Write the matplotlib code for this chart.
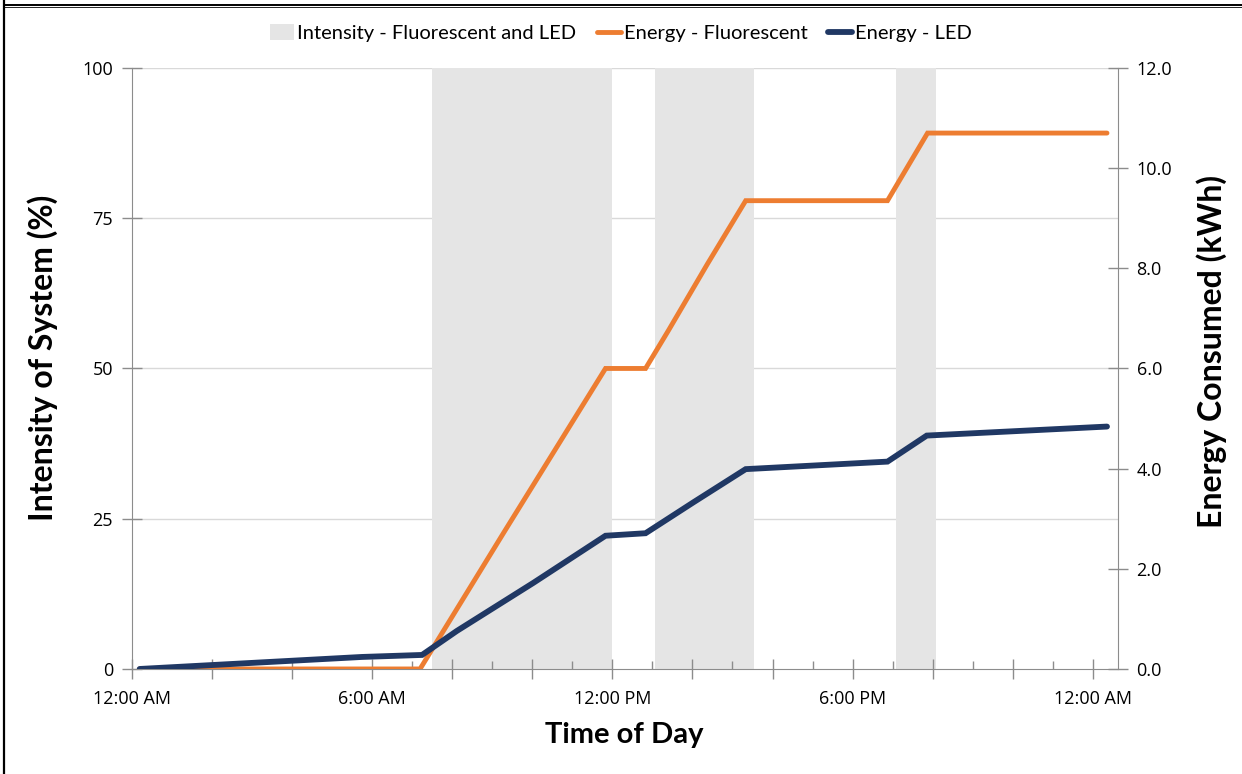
import matplotlib
matplotlib.use("Agg")
import matplotlib.pyplot as plt
from matplotlib.patches import Patch
from matplotlib.lines import Line2D

# hours since midnight
fluor_hours = [0.2, 7.2, 9.28, 11.83, 12.83, 13.41, 14.37, 15.33, 18.87, 19.87, 24.35]
fluor_kwh = [0.0, 0.0, 2.71, 6.0, 6.0, 6.77, 8.08, 9.35, 9.35, 10.70, 10.70]

led_hours = [0.2, 5.75, 7.25, 8.12, 10.03, 11.83, 12.83, 14.03, 15.33, 18.87, 19.85, 24.35]
led_kwh = [0.0, 0.24, 0.28, 0.76, 1.72, 2.66, 2.71, 3.33, 3.99, 4.14, 4.66, 4.84]

# periods where the lights are at 100 % intensity
light_on = [7.5, 13.06, 19.09]
light_off = [12.0, 15.54, 20.08]
intensity = [100, 100, 100]

x_major = [0, 2, 4, 6, 8, 10, 12, 14, 16, 18, 20, 22, 24]
x_minor = [7, 9, 11, 13, 15, 17, 19, 21, 23]
x_labels = {0: "12:00 AM", 6: "6:00 AM", 12: "12:00 PM", 18: "6:00 PM", 24: "12:00 AM"}

orange = "#ED7D31"
navy = "#203864"
band = "#E5E5E5"
tickfont = "Open Sans"
labfont = "Lato"

fig = plt.figure(figsize=(12.42, 7.74), dpi=100)
ax = fig.add_axes([0.106, 0.1357, 0.794, 0.7765])
ax2 = ax.twinx()

for a, b, v in zip(light_on, light_off, intensity):
    ax.fill_between([a, b], 0, v, color=band, lw=0, zorder=1)

for y in [25, 50, 75, 100]:
    ax.axhline(y, color="#D9D9D9", lw=1.0, zorder=0.5)

ax2.plot(fluor_hours, fluor_kwh, color=orange, lw=3.5, solid_capstyle="round",
         solid_joinstyle="miter", zorder=3)
ax2.plot(led_hours, led_kwh, color=navy, lw=4.2, solid_capstyle="round",
         solid_joinstyle="miter", zorder=4)

ax.set_xlim(0, 24.62)
ax.set_ylim(0, 100)
ax2.set_ylim(0, 12)
ax.set_zorder(ax2.get_zorder() - 1)
ax2.patch.set_visible(False)

ax.set_yticks([0, 25, 50, 75, 100])
ax2.set_yticks(range(0, 13, 2))
ax2.set_yticklabels([f"{v:.1f}" for v in range(0, 13, 2)])
ax.set_xticks(x_major)
ax.set_xticklabels([x_labels.get(h, "") for h in x_major])
ax.set_xticks(x_minor, minor=True)

for a in (ax, ax2):
    for s in a.spines.values():
        s.set_color("#8C8C8C")
    a.spines["top"].set_visible(False)
ax.spines["right"].set_visible(False)
ax2.spines["left"].set_visible(False)
ax2.spines["bottom"].set_visible(False)

ax.tick_params(axis="x", which="major", direction="inout", length=15, width=1,
               color="#8C8C8C", pad=8, labelsize=13)
ax.tick_params(axis="x", which="minor", direction="in", length=6, width=1,
               color="#8C8C8C")
ax.tick_params(axis="y", direction="inout", length=15, width=1, color="#8C8C8C",
               pad=6, labelsize=13)
ax2.tick_params(axis="y", direction="inout", length=15, width=1, color="#8C8C8C",
                pad=6, labelsize=13)
for lab in ax.get_xticklabels() + ax.get_yticklabels() + ax2.get_yticklabels():
    lab.set_fontfamily(tickfont)

ax.set_xlabel("Time of Day", fontsize=21, fontweight="bold", family=labfont, labelpad=10)
ax.set_ylabel("Intensity of System (%)", fontsize=23, fontweight="bold", family=labfont)
ax2.set_ylabel("Energy Consumed (kWh)", fontsize=23, fontweight="bold", family=labfont)
ax.yaxis.set_label_coords(-0.075, 0.517)
ax2.yaxis.set_label_coords(1.08, 0.529)

handles = [Patch(facecolor=band, edgecolor="none"),
           Line2D([], [], color=orange, lw=3.5, solid_capstyle="round"),
           Line2D([], [], color=navy, lw=4.2, solid_capstyle="round")]
names = ["Intensity - Fluorescent and LED", "Energy - Fluorescent", "Energy - LED"]
fig.legend(handles, names, loc="center", bbox_to_anchor=(0.5, 0.957), ncol=3,
           frameon=False, prop={"family": labfont, "size": 14.5}, handlelength=1.2,
           handleheight=0.8, handletextpad=0.15, columnspacing=1.0)

# page border lines
fig.add_artist(Line2D([0.0035, 0.0035], [0, 1], color="black", lw=1.6,
                      transform=fig.transFigure))
fig.add_artist(Line2D([0.0035, 1], [1 - 4.8 / 774, 1 - 4.8 / 774], color="black", lw=1.4,
                      transform=fig.transFigure))
fig.add_artist(Line2D([0.0035, 1], [1 - 7 / 774, 1 - 7 / 774], color="black", lw=0.6,
                      transform=fig.transFigure))

fig.savefig("out.png", dpi=100)
